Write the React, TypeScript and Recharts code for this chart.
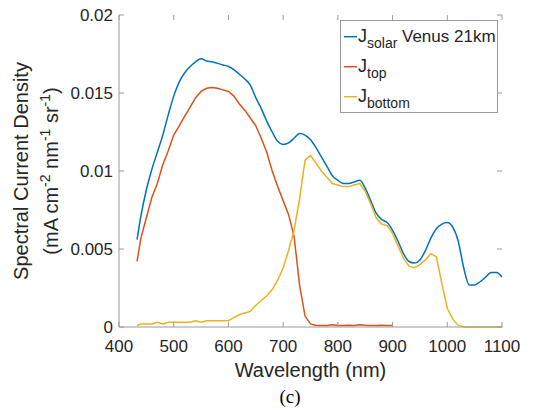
import React from 'react';
import { LineChart, Line, XAxis, YAxis, Legend } from 'recharts';

// wavelength grid (nm)
const wavelength = [
  433, 440, 450, 460, 470, 480, 490, 500, 510, 520, 530, 540, 550, 560, 570, 580, 590, 600,
  610, 620, 630, 640, 650, 660, 670, 680, 690, 700, 710, 720, 730, 740, 750, 760, 770, 780,
  790, 800, 810, 820, 830, 840, 850, 860, 870, 880, 890, 900, 910, 920, 930, 940, 950, 960,
  970, 980, 990, 1000, 1010, 1020, 1030, 1040, 1050, 1060, 1070, 1080, 1090, 1100,
];

const jSolar = [
  0.0056, 0.0071, 0.0088, 0.0101, 0.0112, 0.0123, 0.0136, 0.0148, 0.0157, 0.0163, 0.0167, 0.0170,
  0.0172, 0.01705, 0.0170, 0.0169, 0.0168, 0.0167, 0.0165, 0.0162, 0.0159, 0.0155, 0.0147, 0.0140,
  0.0132, 0.0125, 0.0119, 0.0117, 0.0118, 0.0121, 0.0124, 0.0123, 0.0120, 0.0115, 0.0109, 0.0103,
  0.0097, 0.0094, 0.0092, 0.0092, 0.0093, 0.0094, 0.0089, 0.0081, 0.0073, 0.0069, 0.0067, 0.0062,
  0.0055, 0.0047, 0.0042, 0.0041, 0.0043, 0.0049, 0.0057, 0.0063, 0.0066, 0.0067, 0.0064, 0.0055,
  0.0038, 0.0027, 0.0027, 0.0029, 0.0032, 0.0035, 0.0035, 0.0032,
];

// top cell stops at 900 nm
const jTop = [
  0.0042, 0.0057, 0.0070, 0.0083, 0.0092, 0.0104, 0.0113, 0.0123, 0.0129, 0.0135, 0.0141, 0.0147,
  0.0151, 0.0153, 0.01535, 0.0153, 0.0152, 0.0151, 0.0148, 0.0143, 0.0139, 0.0134, 0.0129, 0.0121,
  0.0112, 0.0100, 0.0090, 0.0081, 0.0072, 0.0058, 0.0027, 0.0007, 0.0002, 0.0001, 0.0001, 0.0001,
  0.00015, 0.0001, 0.0001, 0.00012, 0.0001, 0.00015, 0.00012, 0.0001, 0.0001, 0.00012, 0.0001, 0.0001,
];

const jBottom = [
  0.0001, 0.0002, 0.0002, 0.0002, 0.0003, 0.0002, 0.0003, 0.0003, 0.0003, 0.0003, 0.0003, 0.0004,
  0.0003, 0.0004, 0.0004, 0.0004, 0.0004, 0.0004, 0.0006, 0.0008, 0.0009, 0.0010, 0.0014, 0.0017,
  0.0020, 0.0024, 0.0030, 0.0038, 0.0049, 0.0062, 0.0082, 0.0107, 0.0110, 0.0105, 0.0100, 0.0096,
  0.0092, 0.0091, 0.0090, 0.0090, 0.0091, 0.0092, 0.0087, 0.0079, 0.0070, 0.0066, 0.0065, 0.0060,
  0.0052, 0.0044, 0.0039, 0.0038, 0.0040, 0.0043, 0.0047, 0.0045, 0.0028, 0.0012, 0.0005, 0.0001,
  0, 0, 0, 0, 0, 0, 0, 0,
];

const xTicks = [400, 500, 600, 700, 800, 900, 1000, 1100];
const yTicks = [0, 0.005, 0.01, 0.015, 0.02];

const BLUE = '#0072BD';
const ORANGE = '#D95319';
const YELLOW = '#EDB120';
const AXIS = '#9a9a9a';
const TEXT = '#262626';
const FONT = '"Liberation Sans", Arial, Helvetica, sans-serif';

// layout
const W = 538;
const H = 415;
const M_TOP = 15;
const M_RIGHT = 36;
const X_AXIS_H = 88;
const Y_AXIS_W = 119;
const PLOT_TOP = M_TOP;
const PLOT_RIGHT = W - M_RIGHT;
const TICK_LEN = 5;
const X_GAP = 13;
const Y_GAP = 6;

const data = wavelength.map((w, i) => ({
  wavelength: w,
  solar: jSolar[i],
  top: i < jTop.length ? jTop[i] : null,
  bottom: jBottom[i],
}));

// bottom tick label + inward tick marks on bottom and top edges
const XTick = (props: any) => {
  const { x, y, payload } = props;
  const axisY = y - X_GAP;
  return (
    <g>
      <line x1={x} x2={x} y1={axisY - TICK_LEN} y2={axisY} stroke={AXIS} />
      <line x1={x} x2={x} y1={PLOT_TOP} y2={PLOT_TOP + TICK_LEN} stroke={AXIS} />
      <text x={x} y={y} dy="0.71em" textAnchor="middle" fontSize={17} fill={TEXT} fontFamily={FONT}>
        {payload.value}
      </text>
    </g>
  );
};

// left tick label + inward tick marks on left and right edges
const YTick = (props: any) => {
  const { x, y, payload } = props;
  const axisX = x + Y_GAP;
  return (
    <g>
      <line x1={axisX} x2={axisX + TICK_LEN} y1={y} y2={y} stroke={AXIS} />
      <line x1={PLOT_RIGHT - TICK_LEN} x2={PLOT_RIGHT} y1={y} y2={y} stroke={AXIS} />
      <text x={x} y={y} dy="0.355em" textAnchor="end" fontSize={17} fill={TEXT} fontFamily={FONT}>
        {String(payload.value)}
      </text>
    </g>
  );
};

const XLabel = (props: any) => {
  const vb = props.viewBox;
  const cx = vb.x + vb.width / 2;
  return (
    <g>
      <text x={cx} y={377} textAnchor="middle" fontSize={20} fill={TEXT} fontFamily={FONT}>
        Wavelength (nm)
      </text>
      <text x={290} y={403} textAnchor="middle" fontSize={19} fill="#000" fontFamily='"Liberation Serif", "Times New Roman", serif'>
        (c)
      </text>
    </g>
  );
};

const YLabel = (props: any) => {
  const vb = props.viewBox;
  const cy = vb.y + vb.height / 2;
  return (
    <g fontFamily={FONT} fill={TEXT}>
      <text x={28} y={cy} transform={`rotate(-90 28 ${cy})`} textAnchor="middle" fontSize={20}>
        Spectral Current Density
      </text>
      <text x={58} y={cy} transform={`rotate(-90 58 ${cy})`} textAnchor="middle" fontSize={20}>
        <tspan>(mA cm</tspan>
        <tspan dy={-8} fontSize={14}>-2</tspan>
        <tspan dy={8}> nm</tspan>
        <tspan dy={-8} fontSize={14}>-1</tspan>
        <tspan dy={8}> sr</tspan>
        <tspan dy={-8} fontSize={14}>-1</tspan>
        <tspan dy={8}>)</tspan>
      </text>
    </g>
  );
};

const legendRows = [
  { color: BLUE, sub: 'solar' },
  { color: ORANGE, sub: 'top' },
  { color: YELLOW, sub: 'bottom' },
];

const LegendBox = () => (
  <svg width={158} height={93} style={{ display: 'block' }}>
    <rect x={0.5} y={0.5} width={157} height={92} fill="#fff" stroke={AXIS} />
    {legendRows.map((r, i) => (
      <g key={r.sub}>
        <line x1={4} x2={17} y1={16.7 + 30 * i} y2={16.7 + 30 * i} stroke={r.color} strokeWidth={1.5} />
        <text x={18} y={21.5 + 30 * i} fontSize={18} fill={TEXT} fontFamily={FONT}>
          J<tspan dy={6} fontSize={14}>{r.sub}</tspan>
        </text>
      </g>
    ))}
    <text x={62} y={21.5} fontSize={17} fill={TEXT} fontFamily={FONT}>Venus 21km</text>
  </svg>
);

export default function App() {
  return (
    <div style={{ width: W, height: H, position: 'relative', background: '#fff' }}>
      <style>{'body{margin:0}'}</style>
      <LineChart
        width={W}
        height={H}
        data={data}
        margin={{ top: M_TOP, right: M_RIGHT, bottom: 0, left: 0 }}
        style={{ fontFamily: FONT }}
      >
        <XAxis
          xAxisId="b"
          type="number"
          dataKey="wavelength"
          domain={[400, 1100]}
          ticks={xTicks}
          interval={0}
          height={X_AXIS_H}
          tickSize={0}
          tickLine={false}
          tickMargin={X_GAP}
          stroke={AXIS}
          tick={<XTick />}
          label={{ content: XLabel }}
        />
        {/* box edges on top and right */}
        <XAxis xAxisId="t" orientation="top" type="number" dataKey="wavelength" domain={[400, 1100]}
          ticks={xTicks} height={0} tick={false} tickLine={false} stroke={AXIS} />
        <YAxis
          yAxisId="l"
          type="number"
          domain={[0, 0.02]}
          ticks={yTicks}
          interval={0}
          width={Y_AXIS_W}
          tickSize={0}
          tickLine={false}
          tickMargin={Y_GAP}
          stroke={AXIS}
          tick={<YTick />}
          label={{ content: YLabel }}
        />
        <YAxis yAxisId="r" orientation="right" type="number" domain={[0, 0.02]} ticks={yTicks}
          width={0} tick={false} tickLine={false} stroke={AXIS} />
        <Legend
          layout="vertical"
          align="center"
          verticalAlign="middle"
          content={LegendBox}
          wrapperStyle={{ position: 'absolute', left: 340, top: 20, width: 158, height: 93 }}
        />
        <Line xAxisId="b" yAxisId="l" type="monotone" dataKey="solar" stroke={BLUE} strokeWidth={1.5} dot={false} isAnimationActive={false} />
        <Line xAxisId="b" yAxisId="l" type="linear" dataKey="top" stroke={ORANGE} strokeWidth={1.5} dot={false} isAnimationActive={false} />
        <Line xAxisId="b" yAxisId="l" type="linear" dataKey="bottom" stroke={YELLOW} strokeWidth={1.5} dot={false} isAnimationActive={false} />
      </LineChart>
    </div>
  );
}
